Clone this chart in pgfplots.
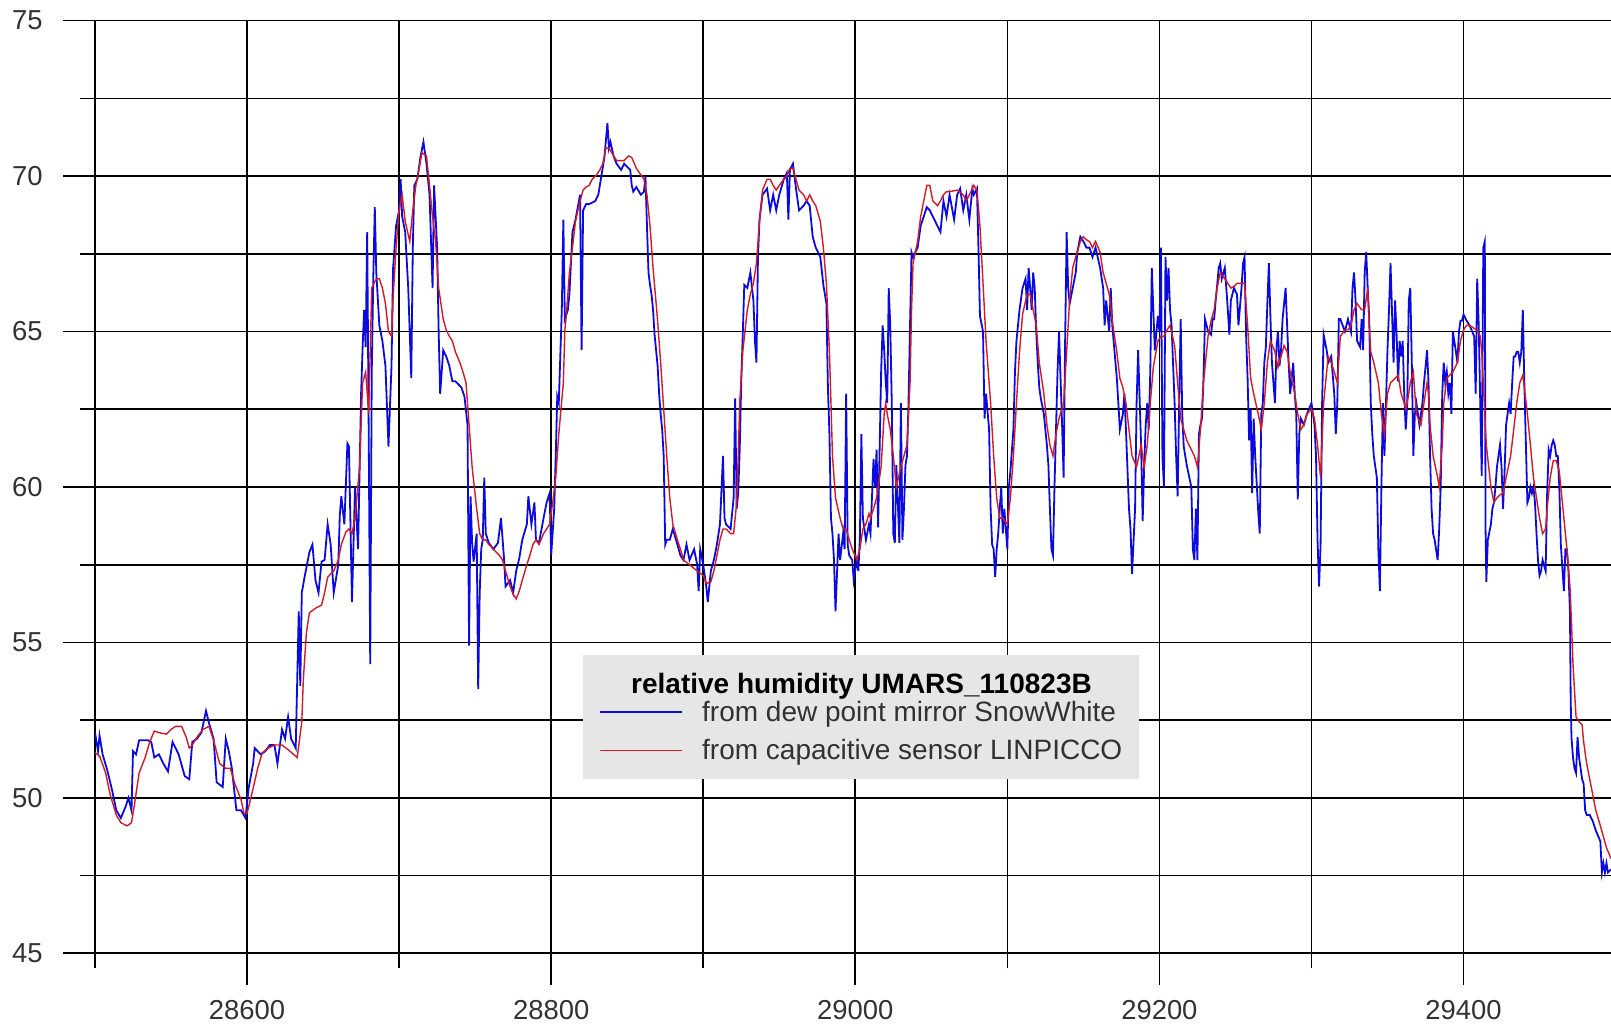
\documentclass[border=0pt]{standalone}
\usepackage{pgfplots}
\pgfplotsset{compat=1.18}
\usepackage{fontspec}
\setmainfont{Liberation Sans}
\definecolor{swblue}{RGB}{10,10,225}
\definecolor{lpred}{RGB}{215,25,35}
\definecolor{legfill}{RGB}{230,230,230}
\definecolor{ticktext}{RGB}{50,50,50}
\begin{document}
\begin{tikzpicture}
\begin{axis}[
  name=ax,
  scale only axis,
  width=758pt, height=466.3pt,
  xmin=28500, xmax=29497, ymin=45, ymax=75,
  axis line style={draw=none},
  tick pos=left,
  tick align=outside,
  xtick={28600,28800,29000,29200,29400},
  xticklabels={28600,28800,29000,29200,29400},
  minor xtick={28500,28700,28900,29100,29300},
  ytick={45,50,55,60,65,70,75},
  yticklabels={45,50,55,60,65,70,75},
  minor ytick={47.5,52.5,57.5,62.5,67.5,72.5},
  major tick length=16pt,
  minor tick length=7.5pt,
  every tick/.style={black, line width=0.8pt},
  every minor tick/.style={black, line width=0.8pt},
  grid=both,
  major grid style={black, line width=0.8pt},
  minor grid style={black, line width=0.8pt},
  every tick label/.append style={inner sep=0pt, font=\fontsize{13.7}{16}\selectfont, text=ticktext},
  xticklabel shift=7.4pt,
  yticklabel shift=10pt,
  legend cell align=left,
  legend image code/.code={\draw[#1] (0pt,2.35pt) -- (41pt,2.35pt);},
  legend style={at={(axis cs:28820.6,54.61)}, anchor=north west,
    fill=legfill, draw=none, inner xsep=8.25pt, inner ysep=4.8pt,
    font=\fontsize{14}{16}\selectfont, text=ticktext,
    row sep=4.5pt, column sep=9.5pt,
    nodes={inner sep=0pt, text height=9.5pt, text depth=5pt}},
]
\addlegendimage{empty legend}
\addlegendentry{\raisebox{-5pt}{\makebox[0pt][l]{\hspace*{-36pt}\textcolor{black}{\bfseries relative humidity UMARS\_110823B}}}}
\addplot[swblue, line width=0.9pt] coordinates {
(28500,52.1)(28502,51.5)(28503,52.0)(28505,51.4)(28508,50.9)(28511,50.3)(28514,49.6)(28517,49.35)(28520,49.7)(28522,50.0)
(28524,49.6)(28525,51.5)(28527,51.4)(28529,51.85)(28535,51.85)(28537,51.8)(28539,51.3)(28542,51.4)(28545,51.1)(28548,50.85)
(28551,51.8)(28553,51.6)(28555,51.4)(28559,50.7)(28562,50.6)(28564,51.8)(28567,51.9)(28570,52.1)(28573,52.8)(28575,52.4)
(28578,51.9)(28580,50.5)(28584,50.35)(28586,51.9)(28588,51.5)(28590,50.95)(28593,49.6)(28596,49.6)(28599,49.35)(28601,50.3)
(28604,51.1)(28605,51.6)(28609,51.4)(28612,51.5)(28615,51.7)(28618,51.7)(28620,51.1)(28623,52.2)(28625,51.9)(28627,52.6)
(28629,51.9)(28632,51.6)(28634,56.0)(28635,53.6)(28636,56.6)(28638,57.15)(28640,57.65)(28641,57.9)(28643,58.15)(28645,57.0)
(28647,56.6)(28649,57.6)(28651,57.65)(28653,58.8)(28655,58.15)(28657,56.6)(28660,57.5)(28661,59.1)(28662,59.7)(28664,58.8)
(28666,61.4)(28667,61.3)(28669,56.3)(28671,60.0)(28673,58.0)(28675,63.0)(28676,64.5)(28677,65.7)(28678,64.5)(28679,68.2)
(28680,61.8)(28681,54.3)(28682,63.7)(28683,66.7)(28684,69.0)(28685,66.9)(28687,65.2)(28689,64.7)(28691,63.9)(28693,61.3)
(28695,63.9)(28696,67.0)(28698,68.4)(28700,68.9)(28701,69.9)(28702,68.7)(28704,68.2)(28706,66.4)(28708,63.5)(28709,67.7)
(28710,69.7)(28712,69.9)(28714,70.6)(28716,71.1)(28718,70.4)(28720,69.4)(28722,66.4)(28723,69.7)(28725,67.7)(28726,65.0)
(28727,63.0)(28729,64.4)(28731,64.2)(28733,63.9)(28735,63.4)(28737,63.4)(28741,63.2)(28743,62.9)(28745,62.0)(28746,54.9)
(28747,59.7)(28748,58.2)(28749,57.6)(28751,58.5)(28752,53.5)(28753,56.6)(28754,58.0)(28755,58.3)(28756,60.3)(28757,58.5)
(28759,58.2)(28762,58.0)(28765,58.2)(28767,59.0)(28769,57.7)(28770,56.8)(28773,57.0)(28775,56.6)(28777,57.3)(28779,57.7)
(28781,58.3)(28784,58.8)(28785,59.7)(28787,58.8)(28789,59.5)(28790,58.3)(28792,58.2)(28795,59.0)(28797,59.5)(28799,59.8)
(28800,57.8)(28802,59.3)(28803,61.0)(28804,62.9)(28805,62.7)(28807,65.7)(28808,68.6)(28809,65.4)(28811,65.7)(28812,66.2)
(28814,68.2)(28816,68.6)(28819,69.4)(28820,64.4)(28821,68.9)(28823,69.1)(28825,69.1)(28829,69.2)(28831,69.4)(28833,70.0)
(28835,70.6)(28837,71.7)(28838,70.9)(28839,71.1)(28841,70.65)(28843,70.4)(28846,70.2)(28848,70.4)(28850,70.3)(28852,70.2)
(28853,69.7)(28854,69.5)(28856,69.65)(28859,69.4)(28861,69.5)(28862,70.0)(28863,68.4)(28864,66.9)(28865,66.5)(28866,66.2)
(28867,65.7)(28868,64.9)(28870,63.9)(28871,63.0)(28872,62.35)(28873,61.85)(28874,61.0)(28875,58.15)(28876,58.3)(28878,58.3)
(28880,58.65)(28883,58.15)(28885,57.8)(28887,57.65)(28889,58.15)(28891,57.65)(28894,58.0)(28896,57.5)(28897,56.65)(28898,58.0)
(28900,57.5)(28902,56.8)(28903,56.3)(28905,57.3)(28907,57.65)(28909,58.15)(28911,58.8)(28913,61.0)(28914,59.0)(28915,58.8)
(28918,58.65)(28920,59.65)(28921,62.85)(28922,59.3)(28923,59.8)(28924,61.2)(28925,63.4)(28926,64.9)(28927,66.5)(28929,66.4)
(28931,66.9)(28933,66.0)(28934,64.7)(28935,64.0)(28936,67.4)(28937,68.6)(28939,69.4)(28942,69.6)(28944,68.9)(28946,69.4)
(28948,68.9)(28950,69.4)(28953,69.9)(28955,70.1)(28956,68.6)(28957,70.2)(28959,70.4)(28961,69.6)(28963,68.9)(28966,69.05)
(28968,69.2)(28970,69.05)(28972,68.05)(28974,67.7)(28977,67.4)(28979,66.5)(28980,66.2)(28981,65.9)(28982,63.2)(28983,61.7)
(28984,59.0)(28985,58.5)(28986,57.65)(28987,56.0)(28989,58.5)(28990,57.65)(28992,58.5)(28993,58.0)(28994,63.0)(28995,58.15)
(28996,57.8)(28998,57.65)(28999,57.0)(29001,57.65)(29002,57.3)(29003,58.3)(29004,61.7)(29005,59.0)(29007,58.3)(29009,58.8)
(29010,58.5)(29012,60.9)(29013,60.0)(29014,61.2)(29015,58.7)(29017,63.7)(29018,65.2)(29019,64.4)(29020,63.4)(29021,62.7)
(29022,66.4)(29023,65.2)(29024,62.7)(29025,58.5)(29026,58.2)(29027,60.7)(29029,58.2)(29030,62.7)(29031,58.3)(29032,59.3)
(29033,60.7)(29034,61.0)(29035,62.7)(29036,65.2)(29037,67.55)(29038,67.4)(29041,67.7)(29043,68.4)(29045,68.7)(29047,69.0)
(29049,68.9)(29051,68.7)(29054,68.4)(29056,68.2)(29058,69.2)(29060,68.7)(29062,69.4)(29065,68.6)(29067,69.4)(29069,69.6)
(29071,68.9)(29073,69.4)(29075,68.6)(29077,69.6)(29078,69.4)(29080,69.6)(29081,67.7)(29082,65.5)(29084,65.0)(29085,62.2)
(29086,63.0)(29088,61.85)(29089,59.3)(29090,58.15)(29091,58.0)(29092,57.1)(29093,58.0)(29094,58.5)(29095,59.3)(29096,60.0)
(29097,58.5)(29098,59.3)(29100,58.0)(29101,60.0)(29102,60.5)(29104,61.85)(29105,63.7)(29106,64.7)(29108,65.7)(29110,66.4)
(29112,66.7)(29113,65.7)(29114,67.05)(29115,66.4)(29116,65.7)(29117,66.9)(29118,66.4)(29119,65.0)(29120,64.0)(29121,63.2)
(29122,62.85)(29124,62.35)(29125,61.85)(29126,61.35)(29127,60.7)(29128,59.3)(29129,58.0)(29130,57.8)(29131,60.0)(29132,61.85)
(29133,63.7)(29134,65.0)(29136,62.0)(29137,60.3)(29138,64.7)(29139,68.2)(29140,66.4)(29141,65.9)(29143,66.4)(29145,66.9)
(29146,67.55)(29148,68.05)(29150,67.9)(29152,67.7)(29154,67.7)(29156,67.4)(29158,67.7)(29161,67.05)(29163,66.4)(29164,65.2)
(29165,66.0)(29167,65.0)(29168,66.4)(29169,65.2)(29172,63.5)(29173,62.7)(29174,61.85)(29176,62.35)(29177,63.0)(29178,61.85)
(29180,59.3)(29181,58.65)(29182,57.2)(29184,59.3)(29185,62.7)(29186,64.4)(29188,61.3)(29189,58.9)(29190,60.7)(29191,62.0)
(29192,62.7)(29193,61.85)(29194,63.7)(29195,67.05)(29196,65.7)(29197,64.4)(29199,65.5)(29200,65.0)(29201,67.7)(29202,61.0)
(29203,60.0)(29204,67.4)(29205,66.0)(29206,67.05)(29207,65.7)(29208,65.2)(29210,62.7)(29211,61.0)(29212,59.7)(29213,62.7)
(29214,65.4)(29215,62.35)(29216,61.3)(29218,60.7)(29221,60.0)(29222,58.0)(29223,57.65)(29224,59.3)(29225,57.65)(29226,61.7)
(29227,62.0)(29228,62.2)(29229,63.5)(29230,65.4)(29232,65.0)(29234,64.9)(29235,65.4)(29236,65.4)(29237,66.0)(29238,66.5)
(29239,67.05)(29240,67.2)(29241,66.7)(29243,67.05)(29244,66.4)(29245,65.7)(29246,64.9)(29247,66.0)(29249,66.4)(29251,66.2)
(29252,65.2)(29254,66.4)(29255,67.2)(29256,67.4)(29257,64.9)(29258,63.5)(29259,61.5)(29260,62.5)(29261,59.8)(29262,62.2)
(29263,61.0)(29265,59.2)(29266,58.5)(29267,62.35)(29268,62.7)(29269,64.0)(29270,64.5)(29271,65.9)(29272,67.2)(29273,65.5)
(29274,64.0)(29276,62.7)(29277,64.5)(29278,65.0)(29279,63.9)(29280,64.4)(29281,65.4)(29282,65.9)(29283,66.4)(29284,65.2)
(29285,64.0)(29286,63.0)(29288,64.0)(29289,63.0)(29290,62.35)(29291,59.6)(29292,61.7)(29293,62.2)(29295,62.0)(29297,62.35)
(29300,62.7)(29301,62.35)(29302,62.0)(29303,61.0)(29304,58.3)(29305,56.8)(29306,58.15)(29307,62.7)(29308,64.9)(29310,64.4)
(29311,64.0)(29313,64.2)(29315,63.0)(29316,61.7)(29317,62.7)(29318,65.4)(29319,65.4)(29322,65.0)(29324,65.4)(29326,65.0)
(29327,66.4)(29328,66.9)(29329,66.0)(29330,64.7)(29332,64.5)(29333,65.4)(29334,64.4)(29335,66.9)(29336,67.55)(29337,66.4)
(29338,65.4)(29339,62.7)(29340,61.7)(29341,61.0)(29343,60.3)(29344,58.0)(29345,56.65)(29346,60.0)(29347,62.7)(29348,61.0)
(29349,62.7)(29350,64.4)(29351,65.7)(29352,67.2)(29354,64.0)(29355,66.0)(29356,64.9)(29357,63.4)(29358,64.7)(29359,64.2)
(29360,64.7)(29361,63.0)(29362,61.85)(29363,62.7)(29364,66.0)(29365,66.4)(29366,64.0)(29367,61.0)(29368,62.35)(29369,62.7)
(29371,62.0)(29372,62.35)(29373,62.7)(29374,63.35)(29375,63.85)(29376,64.4)(29377,63.35)(29378,61.0)(29379,59.3)(29380,58.5)
(29381,58.3)(29383,57.65)(29384,58.65)(29385,60.0)(29386,63.0)(29387,64.0)(29388,63.35)(29389,63.7)(29390,63.0)(29391,63.35)
(29392,62.35)(29393,65.0)(29395,64.35)(29396,64.0)(29397,65.0)(29398,65.35)(29399,65.35)(29400,65.55)(29402,65.35)(29404,65.2)
(29407,64.85)(29408,63.0)(29409,66.7)(29410,65.2)(29411,62.7)(29412,60.35)(29413,67.7)(29414,67.9)(29414.5,58.65)(29415,56.95)
(29416,58.3)(29418,58.8)(29419,59.3)(29420,59.5)(29421,60.0)(29422,60.65)(29423,61.0)(29424,61.35)(29425,60.65)(29426,59.3)
(29427,60.5)(29428,62.0)(29430,62.7)(29431,62.35)(29432,63.35)(29433,64.2)(29434,64.2)(29435,64.35)(29436,64.35)(29437,64.0)
(29438,64.35)(29439,65.7)(29440,63.35)(29442,59.5)(29443,59.65)(29444,60.0)(29445,59.8)(29446,60.0)(29447,59.5)(29448,58.5)
(29449,57.65)(29450,57.15)(29451,57.3)(29452,57.65)(29454,57.3)(29455,59.8)(29456,61.2)(29457,61.0)(29458,61.35)(29459,61.5)
(29460,61.35)(29461,61.0)(29462,61.0)(29463,60.0)(29464,58.15)(29466,56.65)(29467,58.0)(29468,58.0)(29469,57.3)(29470,56.0)
(29470.5,53.1)(29471,51.95)(29472,51.3)(29473,50.95)(29474,50.8)(29475,51.95)(29476,51.3)(29478,50.6)(29479,50.45)(29480,49.6)
(29481,49.45)(29483,49.45)(29485,49.25)(29487,48.95)(29490,48.6)(29491,47.6)(29492,47.9)(29493,47.6)(29494,47.9)(29495,47.6)
(29497,47.7)
};
\addlegendentry{from dew point mirror SnowWhite}
\addplot[lpred, line width=0.7pt] coordinates {
(28500,51.45)(28503,51.35)(28507,50.8)(28510,50.1)(28514,49.45)(28517,49.2)(28521,49.1)(28524,49.2)(28526,49.8)(28529,50.8)
(28533,51.3)(28536,51.8)(28539,52.15)(28542,52.1)(28547,52.05)(28550,52.2)(28553,52.3)(28557,52.3)(28560,51.95)(28562,51.6)
(28564,51.7)(28567,51.95)(28571,52.2)(28575,52.3)(28578,51.85)(28582,51.1)(28586,50.95)(28589,50.95)(28592,50.45)(28596,49.95)
(28598,49.5)(28600,49.5)(28603,50.1)(28607,50.95)(28610,51.45)(28614,51.6)(28618,51.7)(28623,51.7)(28627,51.55)(28633,51.3)
(28636,52.45)(28637,53.8)(28639,55.3)(28641,55.95)(28645,56.1)(28649,56.2)(28651,56.6)(28653,57.1)(28657,57.3)(28660,57.65)
(28662,58.15)(28665,58.55)(28667,58.65)(28669,58.5)(28671,59.0)(28674,60.65)(28676,63.35)(28678,63.7)(28680,62.35)(28682,66.4)
(28685,66.7)(28687,66.7)(28689,66.4)(28691,65.9)(28693,65.0)(28695,64.85)(28696,66.05)(28698,67.7)(28700,68.9)(28702,69.4)
(28704,68.55)(28707,67.9)(28709,68.9)(28711,69.7)(28713,70.2)(28715,70.75)(28718,70.65)(28720,69.7)(28722,68.7)(28724,67.9)
(28726,66.4)(28729,65.4)(28731,65.05)(28733,64.85)(28735,64.7)(28737,64.35)(28740,64.0)(28742,63.7)(28744,63.35)(28746,62.0)
(28748,60.65)(28751,59.3)(28753,58.5)(28755,58.3)(28757,58.3)(28759,58.15)(28762,58.0)(28764,57.9)(28766,57.8)(28768,57.65)
(28770,57.3)(28773,56.8)(28775,56.55)(28777,56.4)(28779,56.65)(28781,57.0)(28784,57.5)(28786,57.8)(28788,58.15)(28790,58.3)
(28792,58.15)(28795,58.5)(28797,58.65)(28799,58.8)(28801,59.5)(28803,60.3)(28805,61.7)(28808,63.35)(28809,65.05)(28810,65.55)
(28812,66.9)(28814,67.7)(28816,68.55)(28819,69.2)(28821,69.55)(28823,69.65)(28825,69.7)(28827,69.9)(28830,70.05)(28832,70.2)
(28834,70.4)(28836,70.9)(28838,70.9)(28843,70.5)(28848,70.5)(28851,70.65)(28853,70.6)(28856,70.25)(28861,69.9)(28863,69.4)
(28865,68.4)(28867,67.05)(28870,65.35)(28872,64.0)(28874,62.5)(28876,61.0)(28878,59.65)(28880,58.8)(28883,58.3)(28885,58.0)
(28887,57.65)(28891,57.5)(28896,57.3)(28900,57.15)(28902,56.9)(28905,56.95)(28907,57.3)(28909,57.8)(28911,58.3)(28913,58.65)
(28915,58.65)(28918,58.5)(28920,58.5)(28922,59.5)(28923,61.0)(28924,62.7)(28926,64.35)(28929,65.7)(28931,66.2)(28933,66.55)
(28935,67.2)(28937,68.55)(28939,69.55)(28942,69.9)(28944,69.9)(28946,69.7)(28948,69.55)(28950,69.7)(28953,69.9)(28955,70.0)
(28957,70.25)(28959,70.25)(28961,69.9)(28963,69.55)(28966,69.4)(28968,69.2)(28970,69.4)(28972,69.2)(28974,69.05)(28977,68.55)
(28979,67.7)(28981,66.55)(28983,64.35)(28984,62.7)(28985,61.0)(28987,59.65)(28990,59.0)(28992,58.65)(28994,58.65)(28996,58.3)
(28998,58.0)(29001,57.65)(29003,58.0)(29005,58.65)(29007,58.8)(29009,59.15)(29010,59.0)(29012,59.3)(29014,59.65)(29017,60.65)
(29019,62.35)(29020,62.7)(29021,62.35)(29023,61.85)(29025,61.0)(29027,60.0)(29030,60.65)(29032,61.0)(29034,61.35)(29036,63.35)
(29037,65.7)(29038,67.2)(29041,67.9)(29043,68.7)(29045,69.2)(29047,69.7)(29049,69.7)(29051,69.2)(29054,69.05)(29056,69.2)
(29058,69.4)(29060,69.5)(29062,69.5)(29067,69.55)(29071,69.4)(29073,69.2)(29075,69.4)(29078,69.7)(29080,69.55)(29082,68.4)
(29084,66.55)(29086,64.7)(29089,62.7)(29091,61.0)(29093,59.65)(29095,59.0)(29097,59.0)(29100,58.8)(29102,59.65)(29104,61.0)
(29106,62.7)(29108,64.35)(29110,65.55)(29113,66.2)(29115,66.2)(29117,65.7)(29119,65.2)(29121,64.0)(29124,63.0)(29126,62.0)
(29128,61.35)(29130,61.0)(29132,61.7)(29134,62.2)(29137,62.7)(29139,64.35)(29141,66.05)(29143,67.05)(29145,67.4)(29148,67.9)
(29150,68.05)(29152,67.95)(29154,67.9)(29156,67.7)(29158,67.9)(29161,67.55)(29163,66.9)(29165,66.55)(29167,66.2)(29169,65.35)
(29172,64.35)(29174,63.5)(29176,63.2)(29178,62.7)(29180,61.85)(29182,61.0)(29185,60.65)(29188,61.35)(29190,60.65)(29192,61.35)
(29194,62.7)(29196,63.85)(29199,64.7)(29201,64.85)(29203,64.85)(29205,65.05)(29207,65.2)(29210,64.55)(29212,63.35)(29214,62.2)
(29216,61.85)(29218,61.5)(29221,61.2)(29223,61.0)(29225,60.65)(29227,61.85)(29229,63.35)(29232,64.85)(29234,65.35)(29236,65.7)
(29238,66.4)(29240,66.9)(29243,66.7)(29245,66.55)(29247,66.4)(29249,66.45)(29251,66.55)(29254,66.55)(29256,66.55)(29258,65.2)
(29260,63.5)(29262,63.0)(29265,62.35)(29267,61.85)(29269,62.7)(29271,64.0)(29273,64.7)(29276,64.35)(29278,63.85)(29280,64.2)
(29282,64.55)(29284,64.35)(29286,63.7)(29289,63.0)(29291,62.35)(29293,61.85)(29295,62.0)(29297,62.35)(29300,62.5)(29302,62.2)
(29304,61.35)(29306,60.3)(29308,62.7)(29311,64.2)(29313,64.0)(29315,63.7)(29317,63.35)(29319,64.85)(29322,65.05)(29324,65.05)
(29326,65.2)(29328,65.7)(29330,65.9)(29333,65.7)(29335,65.7)(29337,66.4)(29338,65.2)(29339,64.35)(29341,64.0)(29344,63.35)
(29346,62.35)(29348,61.7)(29350,63.0)(29352,63.35)(29355,63.5)(29357,63.6)(29359,63.0)(29361,62.7)(29362,62.5)(29363,62.7)
(29365,63.35)(29367,63.7)(29369,62.35)(29372,62.0)(29374,62.7)(29376,63.35)(29377,63.0)(29378,62.0)(29380,61.0)(29383,60.3)
(29384,60.0)(29386,61.35)(29387,62.7)(29389,63.5)(29391,63.6)(29393,63.7)(29396,64.0)(29398,64.7)(29400,65.05)(29402,65.2)
(29404,65.2)(29407,65.1)(29409,65.05)(29411,64.85)(29412,64.35)(29413,63.35)(29415,61.35)(29418,60.0)(29420,59.5)(29422,59.65)
(29424,59.75)(29426,59.8)(29428,60.3)(29431,61.0)(29433,61.85)(29435,62.7)(29437,63.35)(29439,63.6)(29440,63.2)(29442,62.35)
(29444,61.35)(29446,60.3)(29448,59.65)(29450,59.0)(29452,58.5)(29454,58.65)(29455,59.3)(29457,60.3)(29459,60.85)(29461,60.85)
(29463,60.5)(29464,60.0)(29466,59.0)(29468,58.0)(29470,56.8)(29471,55.65)(29472,54.3)(29473,53.45)(29474,52.6)(29476,52.45)
(29478,52.35)(29479,51.8)(29481,51.1)(29483,50.6)(29485,50.1)(29487,49.6)(29490,49.1)(29492,48.75)(29494,48.4)(29497,48.05)
};
\addlegendentry{from capacitive sensor LINPICCO}
\end{axis}
\pgfresetboundingbox
\path[use as bounding box] ([xshift=-47.5pt,yshift=-36.35pt]ax.south west) rectangle ([yshift=10.35pt]ax.north east);
\end{tikzpicture}
\end{document}
